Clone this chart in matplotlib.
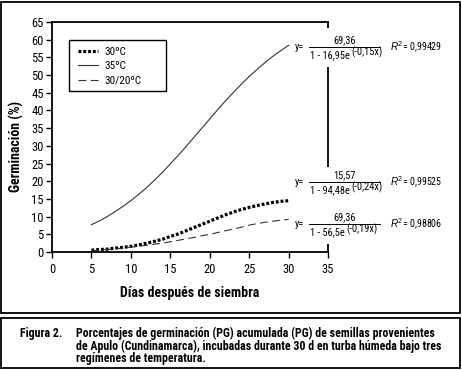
import matplotlib
matplotlib.use("Agg")
from matplotlib import pyplot as plt
from matplotlib.patches import Rectangle

plt.rcParams['font.family'] = ['Roboto Condensed', 'Fira Sans Condensed',
                               'Liberation Sans', 'DejaVu Sans']
plt.rcParams['mathtext.fontset'] = 'custom'
plt.rcParams['mathtext.it'] = 'Liberation Sans:italic'
plt.rcParams['mathtext.rm'] = 'Liberation Sans'

# Days after sowing
dias = list(range(5, 31))

# Germination (%)
g35 = [7.7, 8.8, 10.0, 11.4, 12.9, 14.5, 16.3, 18.2, 20.3, 22.5, 24.9, 27.3, 29.8,
       32.4, 35.0, 37.6, 40.2, 42.7, 45.1, 47.4, 49.6, 51.6, 53.5, 55.3, 56.9, 58.4]
g30 = [0.5, 0.7, 0.8, 1.1, 1.3, 1.6, 2.0, 2.5, 3.0, 3.6, 4.4, 5.1, 6.0, 6.9,
       7.8, 8.7, 9.6, 10.5, 11.3, 12.0, 12.6, 13.1, 13.6, 14.0, 14.3, 14.5]
g3020 = [0.3, 0.5, 0.7, 0.9, 1.1, 1.4, 1.6, 1.9, 2.2, 2.5, 2.9, 3.3, 3.7, 4.1,
         4.6, 5.0, 5.5, 6.0, 6.5, 7.0, 7.6, 8.0, 8.4, 8.7, 9.0, 9.2]

labels = ["30ºC", "35ºC", "30/20ºC"]

# fitted equations shown at the right of the curves
eq_num = ["69,36", "15,57", "69,36"]
eq_den = ["1 - 16,95e", "1 - 94,48e", "1 - 56,5e"]
eq_exp = ["(-0,15x)", "(-0,24x)", "(-0,19x)"]
eq_r2 = ["0,99429", "0,99525", "0,98806"]
eq_y = [57.9, 19.8, 7.9]

caption1 = "Porcentajes de germinación (PG) acumulada (PG) de semillas provenientes"
caption2 = "de Apulo (Cundinamarca), incubadas durante 30 d en turba húmeda bajo tres"
caption3 = "regímenes de temperatura."

fig = plt.figure(figsize=(4.62, 3.71), dpi=100)
ax = fig.add_axes([52/462, 1-252/371, 276/462, 230/371])

ax.plot(dias, g30, color='black', lw=2.3, linestyle=(0, (0.9, 0.6)), label=labels[0])
ax.plot(dias, g35, color='#333333', lw=0.8, label=labels[1])
ax.plot(dias, g3020, color='#333333', lw=0.8, dashes=(7, 4), label=labels[2])

ax.set_xlim(0, 35)
ax.set_ylim(0, 65)
ax.set_xticks(range(0, 36, 5))
ax.set_yticks(range(0, 66, 5))
ax.tick_params(direction='out', length=4, width=1, labelsize=9, pad=2)
ax.tick_params(axis='x', pad=4)
for s in ['left', 'bottom', 'top']:
    ax.spines[s].set_linewidth(1.3)
ax.spines['right'].set_visible(False)
# right frame, broken where the equations sit
for y0, y1 in [(63.4, 65), (24.0, 52.3), (0, 2.3)]:
    ax.plot([35, 35], [y0, y1], color='black', lw=1.3, clip_on=False,
            solid_capstyle='butt')

ax.set_ylabel("Germinación (%)", fontsize=10, fontweight='bold')
ax.yaxis.set_label_coords(-0.10, 0.46)
ax.set_xlabel("Días después de siembra", fontsize=10, fontweight='bold')
ax.xaxis.set_label_coords(0.5, -0.15)

# legend: frame drawn by hand, it is wider than the entries
ax.add_patch(Rectangle((0.0616, 0.70), 0.351, 0.222, transform=ax.transAxes,
                       fill=False, edgecolor='black', lw=1.0))
ax.legend(loc='upper left', bbox_to_anchor=(0.094, 0.892), fontsize=8,
          frameon=False, borderpad=0, borderaxespad=0, handlelength=1.8,
          handletextpad=0.6, labelspacing=0.4)

for num, den, ex, r2, y in zip(eq_num, eq_den, eq_exp, eq_r2, eq_y):
    ax.text(30.8, y, "y=", fontsize=7.5, va='center', ha='left', clip_on=False)
    ax.plot([32.6, 41.6], [y, y], color='black', lw=0.7, clip_on=False)
    ax.text(37.1, y + 0.6, num, fontsize=7.5, va='bottom', ha='center')
    t = ax.text(32.7, y - 0.9, den, fontsize=7.5, va='top', ha='left')
    ax.annotate(ex, xy=(1, 0.78), xycoords=t, xytext=(1.5, 0),
                textcoords='offset points', fontsize=7.5, va='center', ha='left')
    ax.text(42.8, y, "$R^2$= " + r2, fontsize=7.2, va='center', ha='left')

# outer boxes
fig.patches.append(Rectangle((1/462, 1-313/371), 459/462, 311/371,
                             transform=fig.transFigure, fill=False,
                             edgecolor='black', lw=1.3))
fig.patches.append(Rectangle((1/462, 1-368/371), 459/462, 50/371,
                             transform=fig.transFigure, fill=False,
                             edgecolor='black', lw=1.3))

cap_kw = dict(fontsize=8.6, fontweight='bold', va='center')
fig.text(20/462, 1-333/371, "Figura 2.", **cap_kw)
fig.text(76/462, 1-333/371, caption1, **cap_kw)
fig.text(76/462, 1-346/371, caption2, **cap_kw)
fig.text(76/462, 1-358.5/371, caption3, **cap_kw)

fig.savefig("out.png", dpi=100)
